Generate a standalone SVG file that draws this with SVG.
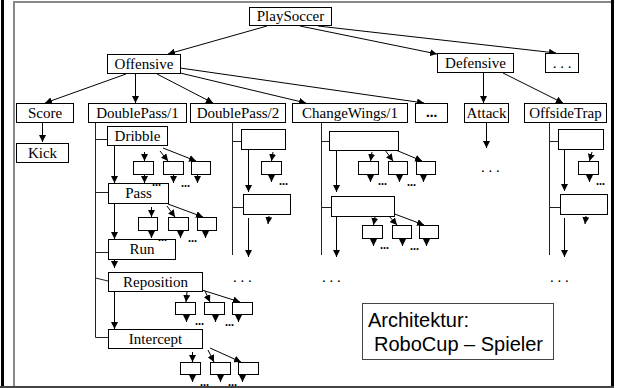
<svg xmlns="http://www.w3.org/2000/svg" width="617" height="388" viewBox="0 0 617 388">
  <style>
    .box { fill: #fff; stroke: #000; stroke-width: 1; }
    .sub { fill: #fff; stroke: #000; stroke-width: 1; }
    .lbl { font-family: "Liberation Serif", "Times New Roman", serif; font-size: 15px; fill: #000; text-anchor: middle; }
    .dots { font-family: "Liberation Serif", "Times New Roman", serif; font-size: 12px; font-weight: bold; fill: #000; }
    .gap { font-family: "Liberation Serif", "Times New Roman", serif; font-size: 15px; fill: #000; }
    .edge { fill: none; stroke: #000; stroke-width: 1; marker-end: url(#ah); }
    .rail { fill: none; stroke: #222; stroke-width: 1; }
    .note { font-family: "Liberation Sans", Arial, sans-serif; font-size: 20px; fill: #000; }
  </style>
  <defs>
    <marker id="ah" viewBox="0 0 10 10" refX="10" refY="5" markerWidth="7" markerHeight="7" orient="auto" markerUnits="userSpaceOnUse">
      <path d="M0,0 L10,5 L0,10 z" fill="#000"/>
    </marker>
  </defs>

  <!-- page frame -->
  <rect x="0" y="0" width="617" height="388" fill="#fff"/>
  <g id="frame">
    <rect x="1" y="0" width="3" height="388" fill="#000"/>
    <rect x="13" y="1" width="2" height="387" fill="#888"/>
    <rect x="13" y="1" width="598" height="2" fill="#888"/>
    <rect x="611" y="0" width="3" height="388" fill="#000"/>
    <rect x="0" y="386" width="614" height="2" fill="#444"/>
  </g>

  <!-- connectors -->
  <g id="connectors">
    <path class="edge" d="M267,26 L168,54"/>
    <path class="edge" d="M300,26 L437,54"/>
    <path class="edge" d="M318,26 L556,53"/>
    <path class="edge" d="M126,74 L45,103"/>
    <path class="edge" d="M135.5,74 L135.5,103"/>
    <path class="edge" d="M157,74 L213,103"/>
    <path class="edge" d="M176,72 L306,103"/>
    <path class="edge" d="M180,68 L424,103"/>
    <path class="edge" d="M483.5,73 L483.5,103"/>
    <path class="edge" d="M503,73 L563,103"/>
    <path class="edge" d="M42.5,123 L42.5,142"/>

    <!-- DoublePass/1 sequence -->
    <path class="rail" d="M95.5,123 L95.5,337.5 L108,337.5"/>
    <path class="rail" d="M95.5,139.5 L107,139.5 M95.5,192.5 L108,192.5 M95.5,252.5 L108,252.5 M95.5,278 L108,281"/>
    <path class="edge" d="M114.5,145 L114.5,183"/>
    <path class="edge" d="M114.5,203 L114.5,239"/>
    <path class="edge" d="M114.5,260 L114.5,268"/>
    <path class="edge" d="M114.5,291 L114.5,329"/>

    <path class="edge" d="M144.5,152 L144.5,161"/>
    <path class="edge" d="M160,151 L168,161"/>
    <path class="edge" d="M163,148 L196,161"/>
    <path class="edge" d="M144.5,174 L144.5,183"/>
    <path class="edge" d="M173.5,174 L173.5,183"/>
    <path class="edge" d="M197.5,174 L197.5,183"/>

    <path class="edge" d="M151.5,207 L151.5,217"/>
    <path class="edge" d="M167,206 L175,217"/>
    <path class="edge" d="M168,204 L203,217"/>
    <path class="edge" d="M151.5,230 L151.5,238"/>
    <path class="edge" d="M180.5,230 L180.5,238"/>
    <path class="edge" d="M205.5,230 L205.5,238"/>

    <path class="edge" d="M187,292 L186,302"/>
    <path class="edge" d="M205,291 L210,302"/>
    <path class="edge" d="M202,290 L240,302"/>
    <path class="edge" d="M186.5,314 L186.5,322"/>
    <path class="edge" d="M215.5,314 L215.5,322"/>
    <path class="edge" d="M238.5,314 L238.5,322"/>

    <path class="edge" d="M192.5,352 L192.5,362"/>
    <path class="edge" d="M208,350 L214,362"/>
    <path class="edge" d="M210,348 L241,362"/>
    <path class="edge" d="M192.5,374 L192.5,382"/>
    <path class="edge" d="M220.5,374 L220.5,382"/>
    <path class="edge" d="M242.5,374 L242.5,382"/>

    <!-- DoublePass/2 sequence -->
    <path class="rail" d="M232.5,123 L232.5,255 M232.5,141.5 L241,141.5 M232.5,207.5 L243,207.5"/>
    <path class="edge" d="M248.5,149 L248.5,192"/>
    <path class="edge" d="M248.5,218 L248.5,257"/>
    <path class="edge" d="M273,152 L271.5,161"/>
    <path class="edge" d="M271.5,174 L271.5,182"/>
    <path class="edge" d="M269,216 L268,224"/>

    <!-- ChangeWings/1 sequence -->
    <path class="rail" d="M321.5,123 L321.5,255 M321.5,141.5 L329,141.5 M321.5,207.5 L331,207.5"/>
    <path class="edge" d="M336.5,150 L336.5,192"/>
    <path class="edge" d="M336.5,216 L336.5,257"/>
    <path class="edge" d="M372,152 L370.5,161"/>
    <path class="edge" d="M385,150 L393,161"/>
    <path class="edge" d="M391,148 L422,161"/>
    <path class="edge" d="M370.5,174 L370.5,182"/>
    <path class="edge" d="M399.5,174 L399.5,182"/>
    <path class="edge" d="M423.5,174 L423.5,182"/>
    <path class="edge" d="M375,217 L373.5,225"/>
    <path class="edge" d="M389,216 L397,225"/>
    <path class="edge" d="M392,213 L424,225"/>
    <path class="edge" d="M373.5,238 L373.5,246"/>
    <path class="edge" d="M402.5,238 L402.5,246"/>
    <path class="edge" d="M426.5,238 L426.5,246"/>

    <!-- Attack -->
    <path class="edge" d="M486.5,123 L486.5,148"/>

    <!-- OffsideTrap sequence -->
    <path class="rail" d="M549.5,123 L549.5,255 M549.5,141.5 L558,141.5 M549.5,207.5 L560,207.5"/>
    <path class="edge" d="M564.5,149 L564.5,191"/>
    <path class="edge" d="M564.5,218 L564.5,257"/>
    <path class="edge" d="M592,152 L589.5,161"/>
    <path class="edge" d="M589.5,174 L589.5,182"/>
    <path class="edge" d="M586,216 L585,224"/>
  </g>

  <!-- top levels -->
  <g id="playsoccer"><rect class="box" x="249.5" y="7.5" width="82" height="18"/><text class="lbl" x="290.5" y="21">PlaySoccer</text></g>
  <g id="offensive"><rect class="box" x="107.5" y="54.5" width="73" height="19"/><text class="lbl" x="144" y="69">Offensive</text></g>
  <g id="defensive"><rect class="box" x="437.5" y="53.5" width="76" height="19"/><text class="lbl" x="475.5" y="68">Defensive</text></g>
  <g id="more-top"><rect class="box" x="545.5" y="53.5" width="33" height="19"/><text class="lbl" x="562" y="68">. . .</text></g>

  <g id="score"><rect class="box" x="16.5" y="103.5" width="57" height="19"/><text class="lbl" x="45" y="118">Score</text></g>
  <g id="kick"><rect class="box" x="16.5" y="143.5" width="52" height="19"/><text class="lbl" x="42.5" y="158">Kick</text></g>
  <g id="doublepass1"><rect class="box" x="88.5" y="103.5" width="98" height="19"/><text class="lbl" x="137.5" y="118">DoublePass/1</text></g>
  <g id="doublepass2"><rect class="box" x="190.5" y="103.5" width="95" height="19"/><text class="lbl" x="238" y="118">DoublePass/2</text></g>
  <g id="changewings1"><rect class="box" x="292.5" y="103.5" width="115" height="19"/><text class="lbl" x="350" y="118">ChangeWings/1</text></g>
  <g id="more-offensive"><rect class="box" x="415.5" y="103.5" width="32" height="19"/><text class="lbl" x="431.5" y="117" font-weight="bold">...</text></g>
  <g id="attack"><rect class="box" x="464.5" y="103.5" width="44" height="19"/><text class="lbl" x="486.5" y="118">Attack</text></g>
  <g id="offsidetrap"><rect class="box" x="524.5" y="103.5" width="82" height="19"/><text class="lbl" x="565.5" y="118">OffsideTrap</text></g>

  <!-- DoublePass/1 steps -->
  <g id="dribble"><rect class="box" x="107.5" y="126.5" width="60" height="19"/><text class="lbl" x="137.5" y="141">Dribble</text></g>
  <g id="pass"><rect class="box" x="108.5" y="183.5" width="60" height="20"/><text class="lbl" x="138.5" y="198">Pass</text></g>
  <g id="run"><rect class="box" x="108.5" y="239.5" width="67" height="20"/><text class="lbl" x="142" y="254">Run</text></g>
  <g id="reposition"><rect class="box" x="108.5" y="272.5" width="94" height="19"/><text class="lbl" x="155.5" y="287">Reposition</text></g>
  <g id="intercept"><rect class="box" x="108.5" y="329.5" width="94" height="19"/><text class="lbl" x="155.5" y="344">Intercept</text></g>

  <g id="dribble-subs">
    <rect class="sub" x="133.5" y="161.5" width="20" height="13"/>
    <rect class="sub" x="163.5" y="161.5" width="20" height="13"/>
    <rect class="sub" x="191.5" y="161.5" width="19" height="13"/>
    <text class="dots" x="152" y="186">...</text>
    <text class="dots" x="181" y="187">...</text>
  </g>
  <g id="pass-subs">
    <rect class="sub" x="138.5" y="217.5" width="19" height="13"/>
    <rect class="sub" x="168.5" y="217.5" width="20" height="13"/>
    <rect class="sub" x="197.5" y="217.5" width="19" height="13"/>
    <text class="dots" x="158" y="241">...</text>
    <text class="dots" x="188" y="242">...</text>
  </g>
  <g id="reposition-subs">
    <rect class="sub" x="175.5" y="302.5" width="20" height="12"/>
    <rect class="sub" x="204.5" y="302.5" width="20" height="12"/>
    <rect class="sub" x="232.5" y="302.5" width="20" height="12"/>
    <text class="dots" x="195" y="325">...</text>
    <text class="dots" x="225" y="326">...</text>
  </g>
  <g id="intercept-subs">
    <rect class="sub" x="180.5" y="362.5" width="20" height="12"/>
    <rect class="sub" x="210.5" y="362.5" width="20" height="12"/>
    <rect class="sub" x="238.5" y="362.5" width="20" height="12"/>
    <text class="dots" x="200" y="386">...</text>
    <text class="dots" x="228" y="386">...</text>
  </g>

  <!-- DoublePass/2 steps -->
  <g id="dp2-step1"><rect class="box" x="241.5" y="129.5" width="44" height="20"/></g>
  <g id="dp2-step2"><rect class="box" x="243.5" y="194.5" width="47" height="20"/></g>
  <g id="dp2-subs">
    <rect class="sub" x="261.5" y="161.5" width="20" height="13"/>
    <text class="dots" x="279" y="185">...</text>
  </g>
  <text class="gap" x="233" y="282">. . .</text>

  <!-- ChangeWings/1 steps -->
  <g id="cw-step1"><rect class="box" x="329.5" y="131.5" width="69" height="19"/></g>
  <g id="cw-step2"><rect class="box" x="331.5" y="196.5" width="63" height="20"/></g>
  <g id="cw-step1-subs">
    <rect class="sub" x="358.5" y="161.5" width="20" height="13"/>
    <rect class="sub" x="388.5" y="161.5" width="19" height="13"/>
    <rect class="sub" x="416.5" y="161.5" width="19" height="13"/>
    <text class="dots" x="378" y="185">...</text>
    <text class="dots" x="407" y="186">...</text>
  </g>
  <g id="cw-step2-subs">
    <rect class="sub" x="362.5" y="225.5" width="20" height="13"/>
    <rect class="sub" x="392.5" y="225.5" width="19" height="13"/>
    <rect class="sub" x="419.5" y="225.5" width="19" height="13"/>
    <text class="dots" x="380" y="249">...</text>
    <text class="dots" x="410" y="250">...</text>
  </g>
  <text class="gap" x="322" y="282">. . .</text>

  <!-- Attack continuation -->
  <text class="gap" x="481" y="172">. . .</text>

  <!-- OffsideTrap steps -->
  <g id="ot-step1"><rect class="box" x="558.5" y="129.5" width="45" height="20"/></g>
  <g id="ot-step2"><rect class="box" x="560.5" y="194.5" width="47" height="20"/></g>
  <g id="ot-subs">
    <rect class="sub" x="578.5" y="161.5" width="20" height="13"/>
    <text class="dots" x="596" y="185">...</text>
  </g>
  <text class="gap" x="550" y="282">. . .</text>

  <!-- caption -->
  <g id="caption">
    <rect x="362.5" y="303.5" width="191" height="56" fill="#fff" stroke="#444" stroke-width="1"/>
    <text class="note" x="368" y="327">Architektur:</text>
    <text class="note" x="374" y="351">RoboCup – Spieler</text>
  </g>
</svg>
